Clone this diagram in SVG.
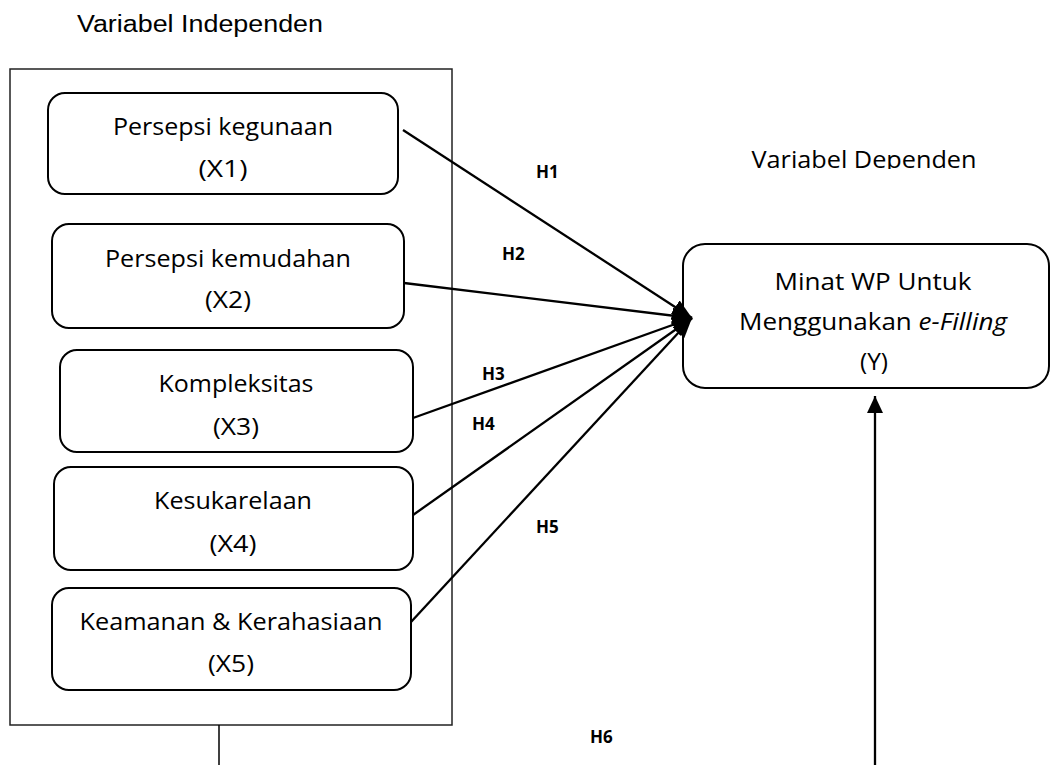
<svg xmlns="http://www.w3.org/2000/svg" width="1052" height="765" viewBox="0 0 1052 765">
<style>
.box{fill:#fff;stroke:#000;stroke-width:2}
.t{font-family:"Open Sans","Liberation Sans",sans-serif;font-size:23px;fill:#000;text-anchor:middle}
.h{font-family:"Open Sans","Liberation Sans",sans-serif;font-size:17px;font-weight:bold;fill:#000}
.c{stroke:#000;stroke-width:2.3;fill:none}
</style>
<defs>
<marker id="ah" markerUnits="userSpaceOnUse" markerWidth="24" markerHeight="20" refX="20" refY="8" orient="auto">
<path d="M0,0 L20,8 L0,16 Z" fill="#000"/>
</marker>
<marker id="ah2" markerUnits="userSpaceOnUse" markerWidth="20" markerHeight="20" refX="17" refY="8" orient="auto">
<path d="M0,0 L17,8 L0,16 Z" fill="#000"/>
</marker>
<clipPath id="clipDep"><rect x="700" y="140" width="352" height="29"/></clipPath>
</defs>
<rect width="1052" height="765" fill="#fff"/>
<g id="title-independen">
<text x="77" y="32" font-family="'Liberation Sans',Arial,sans-serif" font-size="23" textLength="246" lengthAdjust="spacingAndGlyphs">Variabel Independen</text>
</g>
<g id="independen-group">
<rect x="10" y="69" width="442" height="656" fill="none" stroke="#222" stroke-width="1.5"/>
</g>
<g id="x1">
<rect class="box" x="48" y="93" width="350" height="101" rx="17"/>
<text class="t" x="223" y="135" textLength="220" lengthAdjust="spacingAndGlyphs">Persepsi kegunaan</text>
<text class="t" x="223" y="177" textLength="49" lengthAdjust="spacingAndGlyphs">(X1)</text>
</g>
<g id="x2">
<rect class="box" x="52" y="224" width="352" height="104" rx="17"/>
<text class="t" x="228" y="267" textLength="246" lengthAdjust="spacingAndGlyphs">Persepsi kemudahan</text>
<text class="t" x="228" y="308" textLength="46" lengthAdjust="spacingAndGlyphs">(X2)</text>
</g>
<g id="x3">
<rect class="box" x="60" y="350" width="353" height="102" rx="17"/>
<text class="t" x="236" y="392" textLength="155" lengthAdjust="spacingAndGlyphs">Kompleksitas</text>
<text class="t" x="236" y="435" textLength="46" lengthAdjust="spacingAndGlyphs">(X3)</text>
</g>
<g id="x4">
<rect class="box" x="54" y="467" width="359" height="103" rx="17"/>
<text class="t" x="233" y="509" textLength="158" lengthAdjust="spacingAndGlyphs">Kesukarelaan</text>
<text class="t" x="233" y="552" textLength="47" lengthAdjust="spacingAndGlyphs">(X4)</text>
</g>
<g id="x5">
<rect class="box" x="52" y="588" width="359" height="102" rx="17"/>
<text class="t" x="231" y="630" textLength="303" lengthAdjust="spacingAndGlyphs">Keamanan &amp; Kerahasiaan</text>
<text class="t" x="231" y="672" textLength="46" lengthAdjust="spacingAndGlyphs">(X5)</text>
</g>
<g id="title-dependen" clip-path="url(#clipDep)">
<text class="t" x="864" y="168" textLength="225" lengthAdjust="spacingAndGlyphs">Variabel Dependen</text>
</g>
<g id="y">
<rect class="box" x="683" y="244" width="366" height="144" rx="22"/>
<text class="t" x="873" y="290" textLength="197" lengthAdjust="spacingAndGlyphs">Minat WP Untuk</text>
<text class="t" x="873" y="330" textLength="268" lengthAdjust="spacingAndGlyphs">Menggunakan <tspan font-style="italic">e-Filling</tspan></text>
<text class="t" x="874" y="370" textLength="28" lengthAdjust="spacingAndGlyphs">(Y)</text>
</g>
<g id="connectors">
<line class="c" x1="403" y1="130" x2="692" y2="318" marker-end="url(#ah)"/>
<line class="c" x1="404" y1="283" x2="692" y2="318" marker-end="url(#ah)"/>
<line class="c" x1="413" y1="418" x2="692" y2="318" marker-end="url(#ah)"/>
<line class="c" x1="413" y1="515" x2="692" y2="318" marker-end="url(#ah)"/>
<line class="c" x1="411" y1="622" x2="692" y2="318" marker-end="url(#ah)"/>
<line x1="219" y1="725" x2="219" y2="765" stroke="#000" stroke-width="1.5"/>
<line class="c" x1="875" y1="765" x2="875" y2="396" marker-end="url(#ah2)"/>
<text class="h" x="536" y="178">H1</text>
<text class="h" x="502" y="260">H2</text>
<text class="h" x="482" y="380">H3</text>
<text class="h" x="472" y="430">H4</text>
<text class="h" x="536" y="533">H5</text>
<text class="h" x="590" y="743">H6</text>
</g>
</svg>
